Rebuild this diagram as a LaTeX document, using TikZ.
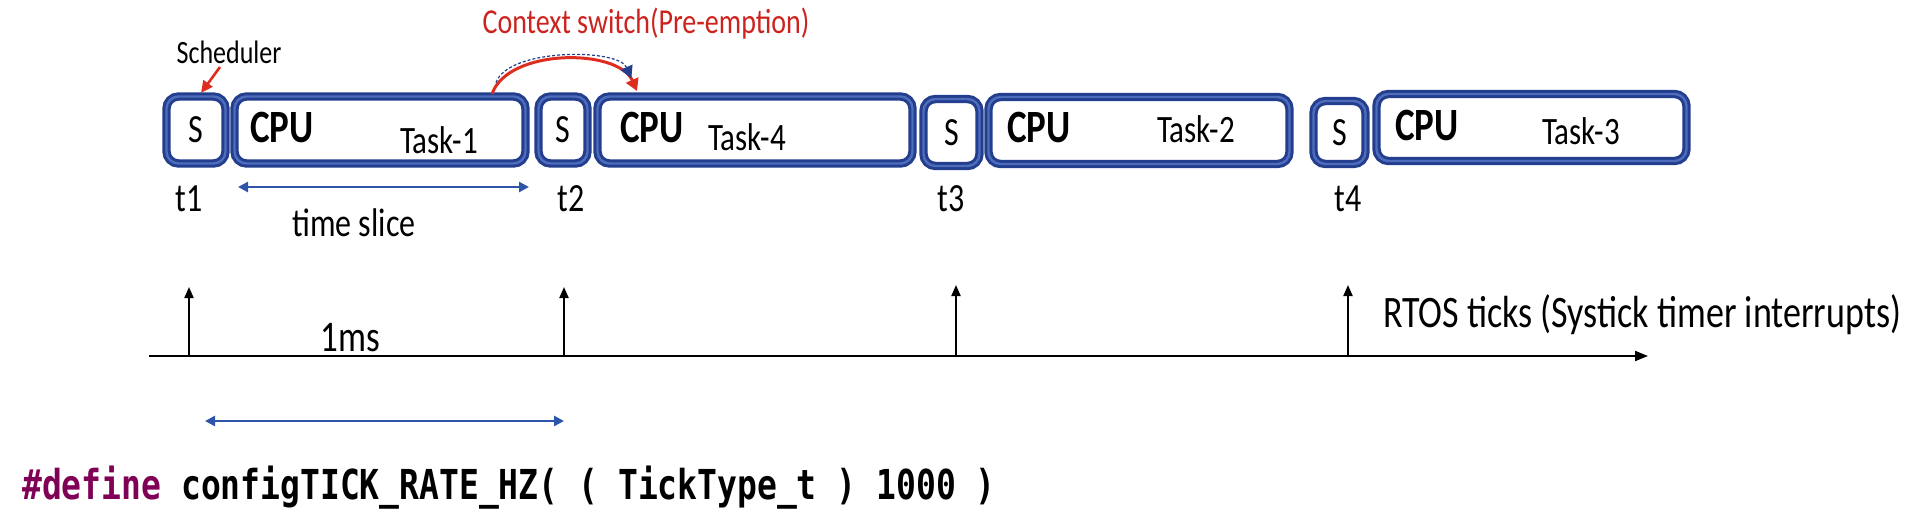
\documentclass[tikz,border=0pt]{standalone}
\usepackage{fontspec}
\setmainfont{Carlito}
\newfontfamily\codefont{DejaVu Sans Mono}
\usetikzlibrary{arrows.meta}
\definecolor{boxdark}{RGB}{36,62,142}
\definecolor{boxlight}{RGB}{78,108,188}
\definecolor{redarr}{RGB}{222,45,30}
\definecolor{redtxt}{RGB}{205,35,30}
\definecolor{bluearr}{RGB}{45,85,170}
\definecolor{kw}{RGB}{127,0,85}
\newcommand\vt[1]{\scalebox{1}[1.25]{#1}}
\tikzset{
  blk/.style={draw=boxdark, line width=3pt, double=boxlight, double distance=2.4pt,
    rounded corners=12pt, fill=white, inner sep=0pt},
  lbl/.style={inner sep=0pt, font=\fontsize{31}{34}\selectfont},
  slbl/.style={inner sep=0pt, font=\fontsize{32}{34}\selectfont},
  cpu/.style={inner sep=0pt, anchor=west, font=\fontsize{37}{40}\selectfont\bfseries},
  tick/.style={-{Triangle[length=11pt,width=9pt]}, line width=2pt, black},
  span/.style={{Triangle[length=10pt,width=10pt]}-{Triangle[length=10pt,width=10pt]}, line width=2.6pt, bluearr},
}
\begin{document}
\begin{tikzpicture}[x=1pt,y=-1pt]
\useasboundingbox (0,0) rectangle (1914,524);
% boxes
\node[blk, minimum width=59pt, minimum height=67pt] (s1) at (196,130) {};
\node[blk, minimum width=291pt, minimum height=67pt] (b1) at (380,130) {};
\node[blk, minimum width=49pt, minimum height=67pt] (s2) at (563,130) {};
\node[blk, minimum width=315pt, minimum height=67pt] (b4) at (755,130) {};
\node[blk, minimum width=56pt, minimum height=67pt] (s3) at (951.5,132.5) {};
\node[blk, minimum width=301pt, minimum height=67pt] (b2) at (1139,130.5) {};
\node[blk, minimum width=52pt, minimum height=63pt] (s4) at (1339.5,132.5) {};
\node[blk, minimum width=310pt, minimum height=67pt] (b3) at (1531.5,127.5) {};
% box texts
\node[slbl] (s1t) at (s1) {\vt{S}};
\node[slbl] (s2t) at (s2) {\vt{S}};
\node[slbl] (s3t) at (s3) {\vt{S}};
\node[slbl] (s4t) at (s4) {\vt{S}};
\node[cpu] (c1) at (250,128) {\vt{CPU}};
\node[cpu] (c4) at (620,128) {\vt{CPU}};
\node[cpu] (c2) at (1007,128) {\vt{CPU}};
\node[cpu] (c3) at (1395,126) {\vt{CPU}};
\node[lbl] (k1) at (439,140) {\vt{Task-1}};
\node[lbl] (k4) at (747,137) {\vt{Task-4}};
\node[lbl] (k2) at (1196,129) {\vt{Task-2}};
\node[lbl] (k3) at (1581,131) {\vt{Task-3}};
% time labels
\node[slbl] (t1) at (189,199) {\vt{t1}};
\node[slbl] (t2) at (571,199) {\vt{t2}};
\node[slbl] (t3) at (951,199) {\vt{t3}};
\node[slbl] (t4) at (1348,199) {\vt{t4}};
% scheduler
\node[inner sep=0pt, font=\fontsize{26}{30}\selectfont] (sch) at (229,52) {\vt{Scheduler}};
\coordinate (schA) at (220,67);
\coordinate (schB) at (201,93);
\draw[redarr, line width=2.6pt, -{Triangle[length=12pt,width=11pt]}] (schA) -- (schB);
% context switch
\node[inner sep=0pt, font=\fontsize{28}{32}\selectfont, text=redtxt] (ctx) at (646,24) {\vt{Context switch(Pre-emption)}};
\coordinate (csA) at (492,94);
\coordinate (csB) at (637,91);
\draw[redarr, line width=3pt, -{Triangle[length=12pt,width=13pt]},
  postaction={draw=boxdark, line width=1.2pt, dash pattern=on 3pt off 2pt, shorten >=14pt, shorten <=12pt}]
  (csA) .. controls (508,48) and (618,48) .. (csB);
% time slice
\coordinate (tsA) at (238,187);
\coordinate (tsB) at (529,187);
\draw[span] (tsA) -- (tsB);
\node[slbl] (tsl) at (354,223) {\vt{time slice}};
% axis
\coordinate (ax0) at (149,356);
\coordinate (ax1) at (1648,356);
\draw[line width=2pt, -{Triangle[length=13pt,width=10pt]}] (ax0) -- (ax1);
\coordinate (p1) at (189,356); \coordinate (q1) at (189,287);
\coordinate (p2) at (564,356); \coordinate (q2) at (564,287);
\coordinate (p3) at (956,356); \coordinate (q3) at (956,285);
\coordinate (p4) at (1348,356); \coordinate (q4) at (1348,285);
\draw[tick] (p1) -- (q1);
\draw[tick] (p2) -- (q2);
\draw[tick] (p3) -- (q3);
\draw[tick] (p4) -- (q4);
\node[inner sep=0pt, font=\fontsize{35}{38}\selectfont] (ms) at (350,338) {\vt{1ms}};
\node[inner sep=0pt, anchor=west, font=\fontsize{36}{40}\selectfont] (rtos) at (1383,315) {\vt{RTOS ticks (Systick timer interrupts)}};
% bottom span
\coordinate (bsA) at (205,421);
\coordinate (bsB) at (564,421);
\draw[span] (bsA) -- (bsB);
% code
\node[inner sep=0pt, anchor=west, font=\fontsize{33}{38}\selectfont\codefont\bfseries] (code) at (22,488)
  {\vt{\textcolor{kw}{\#define} configTICK\_RATE\_HZ( ( TickType\_t ) 1000 )}};
\end{tikzpicture}
\end{document}
